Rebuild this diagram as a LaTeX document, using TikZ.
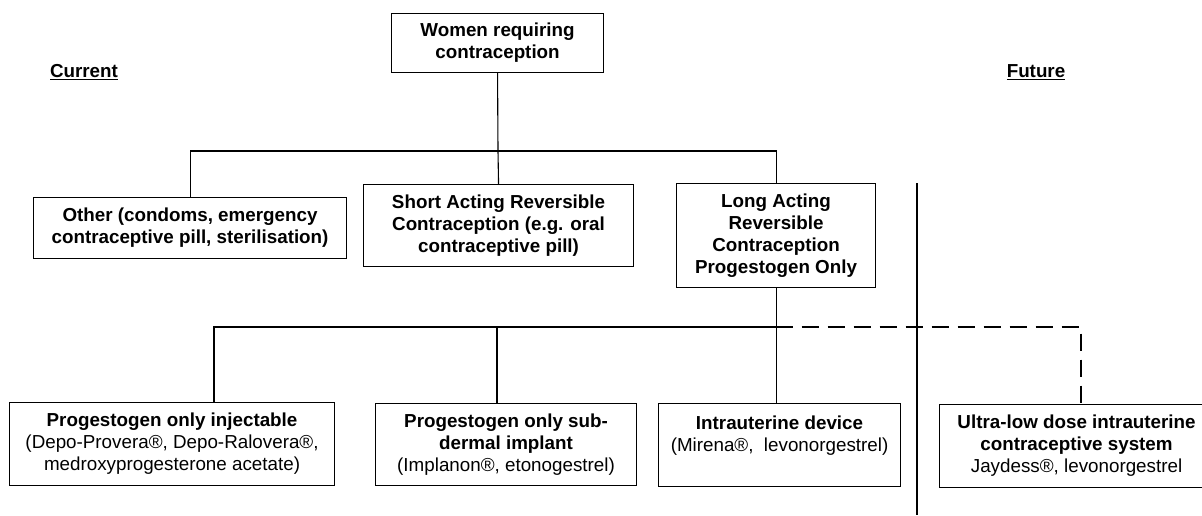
\documentclass[tikz,border=0pt]{standalone}
\usepackage{fontspec}
\setmainfont{Liberation Sans}
\begin{document}
\begin{tikzpicture}[x=1pt,y=-1pt]
\tikzset{
  box/.style={draw, line width=1.1pt, inner sep=0pt, align=center, anchor=north west,
    font=\bfseries\fontsize{18.8}{22}\selectfont},
  conn/.style={line width=1.1pt},
  dashconn/.style={line width=1.1pt, dash pattern=on 17pt off 9pt},
  lbl/.style={font=\bfseries\fontsize{18.8}{22}\selectfont, inner sep=0pt}
}
\useasboundingbox (0,0) rectangle (1202,515);
\clip (0,0) rectangle (1202,515);

% labels
\node[lbl] (cur) at (84,72) {\underline{Current}};
\node[lbl] (fut) at (1036,72) {\underline{Future}};

% top box
\node[box, minimum width=212pt, minimum height=59pt] (top) at (391,13)
  {Women requiring\\contraception};

% second row
\node[box, minimum width=313pt, minimum height=61pt] (other) at (33,197)
  {Other (condoms, emergency\\contraceptive pill, sterilisation)};
\node[box, minimum width=270pt, minimum height=82pt] (sa) at (363,184)
  {Short Acting Reversible\\Contraception (e.g. oral\\contraceptive pill)};
\node[box, minimum width=199pt, minimum height=104pt] (larc) at (676,183)
  {Long Acting\\Reversible\\Contraception\\Progestogen Only};

% bottom row
\node[box, minimum width=325pt, minimum height=83pt] (b1) at (9,402)
  {Progestogen only injectable\\{\mdseries (Depo-Provera®, Depo-Ralovera®,}\\{\mdseries medroxyprogesterone acetate)}};
\node[box, minimum width=261pt, minimum height=82pt] (b2) at (375,403)
  {Progestogen only sub-\\dermal implant\\{\mdseries (Implanon®, etonogestrel)}};
\node[box, minimum width=242pt, minimum height=83pt] (b3) at (658,403)
  {Intrauterine device\\{\mdseries (Mirena®,\ \ levonorgestrel)}\\\mbox{}};
\node[box, minimum width=274pt, minimum height=83pt] (b4) at (939,404)
  {Ultra-low dose intrauterine\\contraceptive system\\{\mdseries Jaydess®, levonorgestrel}};

% connectors, upper level
\coordinate (h1) at (498,151);
\draw[conn] (top.south) -- (h1);
\draw[conn] (other.north) |- (h1) -| (larc.north);
\draw[conn] (h1) -- (sa.north);

% connectors, lower level
\coordinate (h2) at (775.5,327);
\coordinate (d1) at (214,402);
\coordinate (d2) at (497,403);
\coordinate (d4) at (1081,404);
\draw[conn] (larc.south) -- (larc.south |- b3.north);
\draw[conn] (d1) |- (h2);
\draw[conn] (d2) -- (d2 |- h2);
\draw[dashconn] (h2) -| (d4);

% separator
\coordinate (s1) at (917,183);
\coordinate (s2) at (917,515);
\draw[conn] (s1) -- (s2);
\end{tikzpicture}
\end{document}
